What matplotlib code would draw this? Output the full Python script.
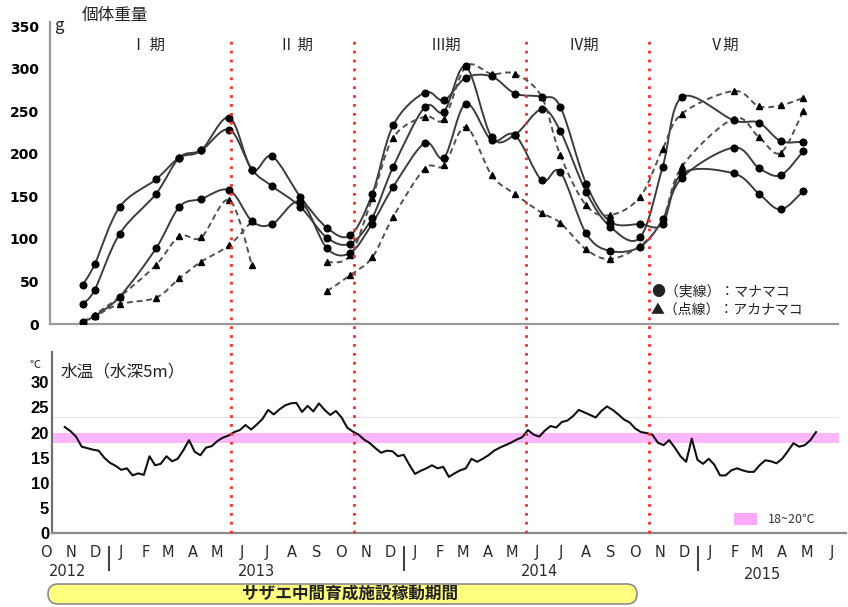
import numpy as np
import pandas as pd
import matplotlib
matplotlib.use("Agg")
import matplotlib.pyplot as plt
import matplotlib.dates as mdates
import matplotlib.transforms as mtransforms
from matplotlib.path import Path
from matplotlib.patches import PathPatch, FancyBboxPatch, Rectangle

plt.rcParams['font.family'] = ['Noto Sans CJK JP', 'DejaVu Sans']
CJK = ['Noto Sans CJK JP', 'DejaVu Sans']

# ---- sampling dates (body weight) ----
sample_dates = ['2012-11-29', '2012-12-14', '2013-01-14', '2013-02-28', '2013-03-29',
                '2013-04-25', '2013-05-30', '2013-06-27', '2013-07-22', '2013-08-26',
                '2013-09-28', '2013-10-27', '2013-11-23', '2013-12-19', '2014-01-27',
                '2014-02-20', '2014-03-19', '2014-04-20', '2014-05-19', '2014-06-21',
                '2014-07-14', '2014-08-15', '2014-09-14', '2014-10-21', '2014-11-18',
                '2014-12-12', '2015-02-14', '2015-03-17', '2015-04-13', '2015-05-11']
nan = np.nan
# solid lines : マナマコ
mana1 = [45.8, 70, 137.5, 170, 195.6, 204, 242.6, 181.6, 197, 149.4, 113, 104.4,
         152.6, 233.6, 272, 263, 289.5, 291, 270.9, 267, 255.5, 165.1, 120.2, 117.4,
         118, 177, 177, 153.4, 134.6, 156.1]
mana2 = [23.5, 40, 106, 153, 195.6, 204, 228.5, 181.6, 162, 137.7, 101.3, 94.6,
         125, 184.7, 254.8, 249.7, 302.8, 219.8, 222.6, 252.4, 227, 155.4, 114.3, 101.8,
         185, 266.8, 239.4, 236.7, 215.1, 214.4]
mana3 = [2.7, 9.4, 32, 88.8, 137.7, 147, 157.3, 121, 117.4, 143.6, 88.8, 83.7,
         118, 161.2, 212.7, 195.6, 259, 216, 222, 169, 178.8, 106.5, 85.8, 90.8,
         123, 172, 207.4, 183.5, 174.9, 203]
# dashed lines : アカナマコ
aka1 = [2.7, 11, 32, 69.2, 103.3, 101.7, 145.6, 69.2, nan, nan, 72.4, 81,
        148, 219, 243.8, 241.1, 302.8, 294, 294, 267, 198.4, 139.7, 128, 149.5,
        206, 247.3, 273.9, 255.9, 257, 265.7]
aka2 = [2.7, 9, 23.4, 30.9, 53.6, 73.2, 92.8, 121, nan, nan, 38.7, 57.5,
        78.3, 126, 182.7, 186.6, 231.6, 174.9, 152.6, 130.7, 119, 87.7, 76.4, 92,
        123, 185.4, 241.4, 219.8, 201.1, 250]

# ---- water temperature (5 m), weekly readings from 2012-11-07 ----
temp_start = '2012-11-07'
temp_vals = [21.1, 20.3, 19.2, 17.2, 16.9, 16.6, 16.4, 15.0, 14.0, 13.4,
             12.6, 12.9, 11.5, 11.9, 11.6, 15.3, 13.5, 13.8, 15.3, 14.3,
             14.8, 16.5, 18.5, 16.2, 15.5, 17.0, 17.3, 18.3, 19.0, 19.4,
             20.1, 20.5, 21.5, 20.6, 21.6, 22.7, 24.5, 23.6, 24.6, 25.4,
             25.8, 25.9, 24.1, 25.3, 24.2, 25.8, 24.5, 23.5, 24.3, 23.0,
             21.0, 20.2, 19.6, 18.6, 17.9, 16.9, 16.0, 16.4, 16.3, 15.3,
             15.6, 13.6, 11.8, 12.4,
             12.9, 13.5, 12.9, 13.2, 11.2, 11.9, 12.5, 12.9, 14.8, 14.2,
             14.8, 15.5, 16.4, 17.0, 17.5, 18.0, 18.6, 19.1, 20.5, 19.6,
             19.2, 20.4, 21.3, 21.0, 22.1, 22.4, 23.3, 24.5, 24.0, 23.5,
             23.0, 24.3, 25.2, 24.5, 23.6, 22.6, 22.0, 20.8, 20.1, 19.9,
             19.6, 18.0, 17.5, 18.5, 17.0, 15.3, 14.2, 18.8, 14.6, 13.8,
             14.8, 13.6, 11.5, 11.5, 12.5, 12.9, 12.5, 12.2, 12.2, 13.5,
             14.5, 14.3, 13.9, 14.8, 16.3, 17.9, 17.2, 17.5, 18.5, 20.1]

period_bounds = ['2013-06-01', '2013-11-01', '2014-06-01', '2014-11-01']
period_labels = ['Ⅰ 期', 'Ⅱ 期', 'Ⅲ期', 'Ⅳ期', 'Ⅴ期']
month_letters = list('ONDJFMAMJJASONDJFMAMJJASONDJFMAMJ')
year_labels = ['2012', '2013', '2014', '2015']


def todays(ds):
    return mdates.date2num(pd.to_datetime(ds).to_numpy())


def smooth_line(ax, x, y, **kw):
    x = np.asarray(x, float)
    y = np.asarray(y, float)
    idx = np.where(~np.isnan(y))[0]
    runs = np.split(idx, np.where(np.diff(idx) > 1)[0] + 1)
    for r in runs:
        if len(r) < 2:
            continue
        px, py = x[r], y[r]
        n = len(px)
        verts = [(px[0], py[0])]
        codes = [Path.MOVETO]
        for i in range(n - 1):
            i0 = max(i - 1, 0)
            i3 = min(i + 2, n - 1)
            c1 = (px[i] + (px[i + 1] - px[i0]) / 6, py[i] + (py[i + 1] - py[i0]) / 6)
            c2 = (px[i + 1] - (px[i3] - px[i]) / 6, py[i + 1] - (py[i3] - py[i]) / 6)
            verts += [c1, c2, (px[i + 1], py[i + 1])]
            codes += [Path.CURVE4] * 3
        ax.add_patch(PathPatch(Path(verts, codes), fill=False, **kw))


W, H = 848, 607
fig = plt.figure(figsize=(W / 100, H / 100), dpi=100)
day0 = mdates.date2num(pd.Timestamp('2012-10-01').to_numpy())

# top panel: px 50..838, py 22..324
ax1 = fig.add_axes([50 / W, 1 - 324 / H, 788 / W, 302 / H])
ax1.set_xlim(day0 + 18.7, day0 + 995.2)
ax1.set_ylim(0, 355)
# bottom panel: px 52..846, py 352..533
ax2 = fig.add_axes([52 / W, 1 - 533.3 / H, 794 / W, 181.3 / H])
ax2.set_xlim(day0 + 21.2, day0 + 1005.1)
ax2.set_ylim(0, 36)

xs = todays(sample_dates)
for ser in (mana1, mana2, mana3):
    smooth_line(ax1, xs, ser, edgecolor='#3c3c3c', lw=1.4, zorder=3)
    ax1.plot(xs, ser, ls='none', marker='o', ms=4.8, color='black', zorder=4)
for ser in (aka1, aka2):
    smooth_line(ax1, xs, ser, edgecolor='#505050', lw=1.4, linestyle=(0, (3, 2)), zorder=3)
    ax1.plot(xs, ser, ls='none', marker='^', ms=5, color='black', zorder=4)

ax1.set_yticks(range(0, 351, 50))
ax1.set_yticklabels([str(v) for v in range(0, 351, 50)], fontweight='bold',
                    fontsize=10, family='DejaVu Sans')
ax1.set_xticks([])
ax1.tick_params(axis='y', length=0, pad=8)
for s in ('top', 'right'):
    ax1.spines[s].set_visible(False)
for s in ('left', 'bottom'):
    ax1.spines[s].set_color('#9a9a9a')
    ax1.spines[s].set_linewidth(1.6)

# water temperature
tx = todays(pd.date_range(temp_start, periods=len(temp_vals), freq='7D'))
ax2.axhspan(18, 20, xmin=0, xmax=0.991, color='#ffb8ff', lw=0, zorder=1)
ax2.axhline(23, xmin=0, xmax=0.99, color='#e4e4e4', lw=0.8, zorder=1)
ax2.plot(tx, temp_vals, color='#111111', lw=1.5, zorder=3)
ax2.set_yticks(range(0, 31, 5))
ax2.set_yticklabels([str(v) for v in range(0, 31, 5)], fontweight='bold',
                    fontsize=12, family='Liberation Sans')
ax2.set_xticks([])
ax2.tick_params(axis='y', length=0, pad=2)
for s in ('top', 'right'):
    ax2.spines[s].set_visible(False)
ax2.spines['left'].set_color('#707070')
ax2.spines['bottom'].set_color('#8a8a8a')
for s in ('left', 'bottom'):
    ax2.spines[s].set_linewidth(1.6)

ax2.add_patch(Rectangle((0.859, 0.046), 0.029, 0.066, transform=ax2.transAxes,
                        color='#ffa8ff', lw=0))
ax2.text(0.902, 0.079, '18~20℃', transform=ax2.transAxes, fontsize=9,
         va='center', ha='left', family=CJK, color='#333333')

# period boundary lines, through both panels
for d in todays(period_bounds):
    ax2.axvline(d, ymin=0, ymax=2.74, clip_on=False, color='#ff2b2b',
                ls=(0, (1, 2.2)), lw=2, zorder=5)

# month letters, years, year separators
trans = mtransforms.blended_transform_factory(ax2.transData, ax2.transAxes)
months = pd.date_range('2012-10-01', periods=len(month_letters), freq='MS') + pd.Timedelta(days=14)
for m, lab in zip(todays(months), month_letters):
    ax2.text(m, -0.107, lab, transform=trans, ha='center', va='center',
             fontsize=10.5, color='#2a2a2a', family='DejaVu Sans', clip_on=False)
year_pos = ['2012-11-10', '2013-07-03', '2014-06-18', '2015-03-22']
year_y = [-0.213, -0.213, -0.213, -0.23]
for d, yy, lab in zip(todays(year_pos), year_y, year_labels):
    ax2.text(d, yy, lab, transform=trans, ha='center', va='center',
             fontsize=10.5, color='#2a2a2a', family='DejaVu Sans', clip_on=False)
for d in todays(['2013-01-01', '2014-01-01', '2015-01-01']):
    ax2.plot([d, d], [-0.075, -0.2], transform=trans, clip_on=False,
             color='#444444', lw=1.5)

# overlay for annotations, in pixel coordinates
ov = fig.add_axes([0, 0, 1, 1])
ov.set_xlim(0, W)
ov.set_ylim(H, 0)
ov.axis('off')

ov.text(82, 15, '個体重量', fontsize=12, va='center', ha='left', color='#222222', family=CJK)
ov.text(54, 25, 'g', fontsize=12, va='center', ha='left', color='#222222', family=CJK)
for x, lab in zip([148, 296, 446, 584, 724], period_labels):
    ov.text(x, 45, lab, fontsize=11, ha='center', va='center', color='#222222', family=CJK)
ov.text(651, 291, '●（実線）：マナマコ', fontsize=10, ha='left', va='center',
        color='#222222', family=CJK)
ov.text(651, 310, '▲（点線）：アカナマコ', fontsize=10, ha='left', va='center',
        color='#222222', family=CJK)
ov.text(30, 365, '℃', fontsize=8, ha='left', va='center', color='#222222', family=CJK)
ov.text(61, 372, '水温（水深5m）', fontsize=12, ha='left', va='center',
        color='#222222', family=CJK)

box = FancyBboxPatch((48, 584), 589, 20, boxstyle='round,pad=0,rounding_size=10',
                     facecolor='#ffff80', edgecolor='#8c8c8c', lw=1.2)
ov.add_patch(box)
ov.text(350, 594, 'サザエ中間育成施設稼動期間', fontsize=12, fontweight='bold',
        ha='center', va='center', color='#222222', family=CJK)

fig.savefig('out.png', dpi=100)
